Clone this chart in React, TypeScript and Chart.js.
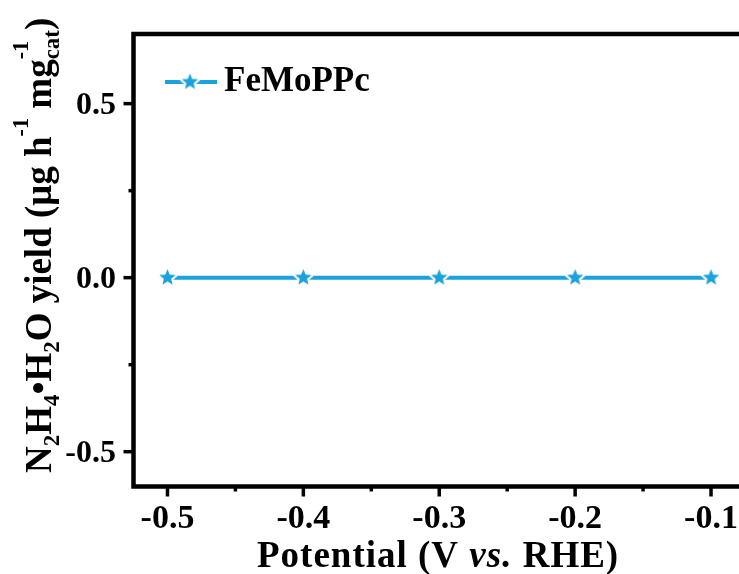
import React, { useEffect, useRef } from "react";
import { Chart, registerables } from "chart.js";

Chart.register(...registerables);

// ---- data ----
const potentials = [-0.5, -0.4, -0.3, -0.2, -0.1];
const yields = [0, 0, 0, 0, 0];
const seriesName = "FeMoPPc";
const seriesColor = "#1ba2dc";

const xMajorTicks = [-0.5, -0.4, -0.3, -0.2, -0.1];
const xTickLabels = ["-0.5", "-0.4", "-0.3", "-0.2", "-0.1"];
const xMinorTicks = [-0.45, -0.35, -0.25, -0.15];
const yMajorTicks = [0.5, 0.0, -0.5];
const yTickLabels = ["0.5", "0.0", "-0.5"];
const yMinorTicks = [0.25, -0.25];

const X_MIN = -0.525;
const X_MAX = -0.075;
const Y_MIN = -0.6;
const Y_MAX = 0.7;

const FONT = '"Liberation Serif", "Times New Roman", serif';

function makeStar(color: string, r: number, outline: number): HTMLCanvasElement {
  const size = Math.ceil((r + outline) * 2 + 2);
  const c = document.createElement("canvas");
  c.width = size;
  c.height = size;
  const g = c.getContext("2d")!;
  const cx = size / 2;
  const cy = size / 2;
  g.beginPath();
  for (let i = 0; i < 10; i++) {
    const rad = i % 2 === 0 ? r : r * 0.45;
    const a = -Math.PI / 2 + (i * Math.PI) / 5;
    g.lineTo(cx + rad * Math.cos(a), cy + rad * Math.sin(a));
  }
  g.closePath();
  g.lineJoin = "round";
  g.strokeStyle = "#ffffff";
  g.lineWidth = outline * 2;
  g.stroke();
  g.fillStyle = color;
  g.fill();
  return c;
}

type Seg = { t: string; kind: "n" | "i" | "sub" | "sup"; advance?: boolean };

function drawRich(ctx: CanvasRenderingContext2D, segs: Seg[], F: number) {
  let x = 0;
  for (const s of segs) {
    let size = F;
    let dy = 0;
    let style = "bold";
    if (s.kind === "sub") {
      size = F * 0.62;
      dy = F * 0.22;
    } else if (s.kind === "sup") {
      size = F * 0.6;
      dy = -F * 0.62;
    } else if (s.kind === "i") {
      style = "italic bold";
    }
    ctx.font = `${style} ${size}px ${FONT}`;
    ctx.fillText(s.t, x, dy);
    const w = ctx.measureText(s.t).width;
    if (s.advance !== false) x += w;
  }
}

const yTitle: Seg[] = [
  { t: "N", kind: "n" },
  { t: "2", kind: "sub" },
  { t: "H", kind: "n" },
  { t: "4", kind: "sub" },
  { t: "\u2022", kind: "n" },
  { t: "H", kind: "n" },
  { t: "2", kind: "sub" },
  { t: "O yield (\u03bcg h", kind: "n" },
  { t: "-1", kind: "sup" },
  { t: " mg", kind: "n" },
  { t: "-1", kind: "sup", advance: false },
  { t: "cat", kind: "sub" },
  { t: ")", kind: "n" },
];

const xTitle: Seg[] = [
  { t: "Potential (V ", kind: "n" },
  { t: "vs.", kind: "i" },
  { t: " RHE)", kind: "n" },
];

export default function App() {
  const ref = useRef<HTMLCanvasElement | null>(null);

  useEffect(() => {
    if (!ref.current) return;
    const star = makeStar(seriesColor, 8.5, 2);

    const decor = {
      id: "decor",
      beforeDatasetsDraw(chart: any) {
        const { ctx, chartArea } = chart;
        ctx.save();
        ctx.strokeStyle = "#000";
        ctx.lineWidth = 4.5;
        ctx.lineJoin = "miter";
        ctx.strokeRect(
          chartArea.left,
          chartArea.top,
          chartArea.right - chartArea.left,
          chartArea.bottom - chartArea.top
        );
        ctx.restore();
      },
      afterDraw(chart: any) {
        const { ctx, chartArea, scales } = chart;
        const xs = scales.x;
        const ys = scales.y;
        const left = chartArea.left;
        const bottom = chartArea.bottom;
        ctx.save();
        ctx.strokeStyle = "#000";
        ctx.fillStyle = "#000";
        ctx.lineWidth = 3.5;
        ctx.lineCap = "butt";
        // x ticks
        for (const v of xMajorTicks) {
          const px = xs.getPixelForValue(v);
          ctx.beginPath();
          ctx.moveTo(px, bottom);
          ctx.lineTo(px, bottom + 10);
          ctx.stroke();
        }
        for (const v of xMinorTicks) {
          const px = xs.getPixelForValue(v);
          ctx.beginPath();
          ctx.moveTo(px, bottom);
          ctx.lineTo(px, bottom + 5);
          ctx.stroke();
        }
        // y ticks
        for (const v of yMajorTicks) {
          const py = ys.getPixelForValue(v);
          ctx.beginPath();
          ctx.moveTo(left, py);
          ctx.lineTo(left - 10, py);
          ctx.stroke();
        }
        for (const v of yMinorTicks) {
          const py = ys.getPixelForValue(v);
          ctx.beginPath();
          ctx.moveTo(left, py);
          ctx.lineTo(left - 5, py);
          ctx.stroke();
        }
        // x tick labels
        ctx.font = `bold 34px ${FONT}`;
        ctx.textAlign = "center";
        ctx.textBaseline = "alphabetic";
        xMajorTicks.forEach((v, i) => {
          ctx.fillText(xTickLabels[i], xs.getPixelForValue(v), 528);
        });
        // y tick labels
        ctx.font = `bold 32px ${FONT}`;
        ctx.textAlign = "right";
        yMajorTicks.forEach((v, i) => {
          ctx.fillText(yTickLabels[i], 116, ys.getPixelForValue(v) + 10.5);
        });
        // x title
        ctx.textAlign = "left";
        ctx.save();
        (ctx as any).letterSpacing = "1px";
        ctx.translate(257, 567);
        drawRich(ctx, xTitle, 37);
        ctx.restore();
        // y title
        ctx.save();
        ctx.translate(51, 473);
        ctx.rotate(-Math.PI / 2);
        drawRich(ctx, yTitle, 37);
        ctx.restore();
        // legend
        ctx.strokeStyle = seriesColor;
        ctx.lineWidth = 4;
        ctx.beginPath();
        ctx.moveTo(165, 82);
        ctx.lineTo(217, 82);
        ctx.stroke();
        ctx.drawImage(star, 190 - star.width / 2, 82 - star.height / 2);
        ctx.fillStyle = "#000";
        ctx.font = `bold 35px ${FONT}`;
        ctx.textAlign = "left";
        ctx.fillText(seriesName, 224, 91);
        ctx.restore();
      },
    };

    const chart = new Chart(ref.current, {
      type: "line",
      data: {
        datasets: [
          {
            label: seriesName,
            data: potentials.map((p, i) => ({ x: p, y: yields[i] })),
            borderColor: seriesColor,
            backgroundColor: seriesColor,
            borderWidth: 4,
            pointStyle: star as any,
            pointRadius: 9,
            tension: 0,
          },
        ],
      },
      options: {
        animation: false,
        responsive: false,
        devicePixelRatio: 1,
        layout: { padding: { left: 133.5, right: 15, top: 34, bottom: 87.5 } },
        plugins: { legend: { display: false }, tooltip: { enabled: false } },
        scales: {
          x: { type: "linear", min: X_MIN, max: X_MAX, display: false },
          y: { type: "linear", min: Y_MIN, max: Y_MAX, display: false },
        },
      },
      plugins: [decor],
    });
    return () => chart.destroy();
  }, []);

  return (
    <div
      style={{
        position: "fixed",
        left: 0,
        top: 0,
        width: 739,
        height: 574,
        overflow: "hidden",
        background: "#fff",
      }}
    >
      <canvas ref={ref} width={760} height={574} style={{ display: "block" }} />
    </div>
  );
}
